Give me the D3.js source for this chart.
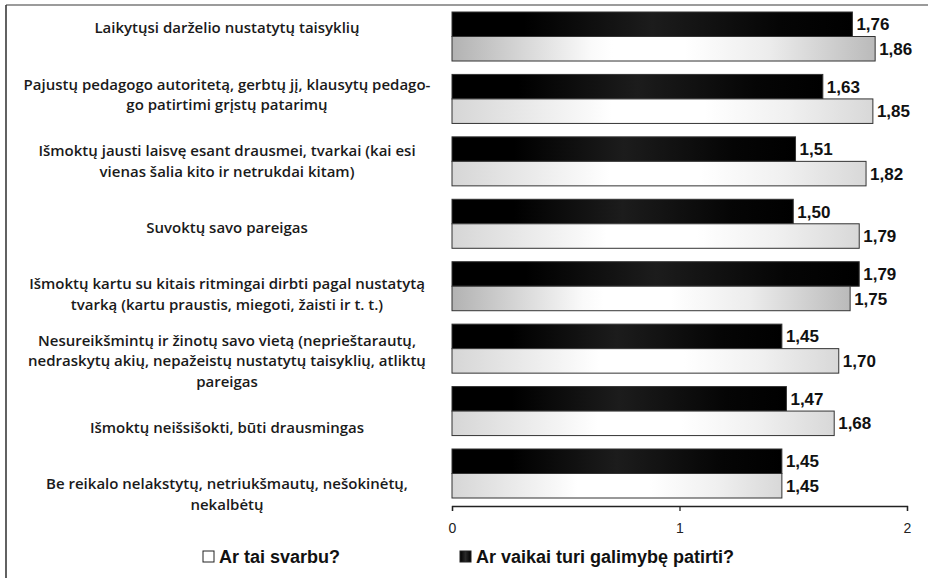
<!DOCTYPE html>
<html><head><meta charset="utf-8">
<script src="https://cdn.jsdelivr.net/npm/d3@7"></script>
<style>body{margin:0;background:#fff}svg{display:block}</style>
</head><body>
<svg id="c" width="928" height="578"></svg>
<script>
const categories = [
  ["Laikytųsi darželio nustatytų taisyklių"],
  ["Pajustų pedagogo autoritetą, gerbtų jį, klausytų pedago-", "go patirtimi grįstų patarimų"],
  ["Išmoktų jausti laisvę esant drausmei, tvarkai (kai esi", "vienas šalia kito ir netrukdai kitam)"],
  ["Suvoktų savo pareigas"],
  ["Išmoktų kartu su kitais ritmingai dirbti pagal nustatytą", "tvarką (kartu praustis, miegoti, žaisti ir t. t.)"],
  ["Nesureikšmintų ir žinotų savo vietą (neprieštarautų,", "nedraskytų akių, nepažeistų nustatytų taisyklių, atliktų", "pareigas"],
  ["Išmoktų neišsišokti, būti drausmingas"],
  ["Be reikalo nelakstytų, netriukšmautų, nešokinėtų,", "nekalbėtų"]
];
const seriesNames = ["Ar vaikai turi galimybę patirti?", "Ar tai svarbu?"];
const valuesOpportunity = [1.76, 1.63, 1.51, 1.50, 1.79, 1.45, 1.47, 1.45];
const valuesImportant  = [1.86, 1.85, 1.82, 1.79, 1.75, 1.70, 1.68, 1.45];
const xTicks = [0, 1, 2];
const legendLabels = ["Ar tai svarbu?", "Ar vaikai turi galimybę patirti?"];

const svg = d3.select("#c");
const ids = categories.map((_, i) => i);

// frame
svg.append("line").attr("x1", 6).attr("x2", 928).attr("y1", 5).attr("y2", 5)
  .attr("stroke", "#7a7a7a").attr("stroke-width", 1.6);
svg.append("line").attr("x1", 6).attr("x2", 6).attr("y1", 5).attr("y2", 578)
  .attr("stroke", "#3a3a3a").attr("stroke-width", 1.6);

// gradients
const defs = svg.append("defs");
function grad(id, stops) {
  const g = defs.append("linearGradient").attr("id", id).attr("x1", 0).attr("x2", 1).attr("y1", 0).attr("y2", 0);
  stops.forEach(([o, c]) => g.append("stop").attr("offset", o).attr("stop-color", c));
}
grad("gBlack", [[0, "#000"], [0.18, "#000"], [0.5, "#1c1c1c"], [0.82, "#050505"], [1, "#000"]]);
grad("gLightStrong", [[0, "#b2b2b2"], [0.33, "#fafafa"], [0.38, "#fff"], [0.55, "#fff"], [0.75, "#ececec"], [1, "#bababa"]]);
grad("gLight", [[0, "#d6d6d6"], [0.3, "#f6f6f6"], [0.38, "#fff"], [0.6, "#fff"], [0.8, "#f0f0f0"], [1, "#d8d8d8"]]);
grad("gLegendBlack", [[0, "#000"], [0.5, "#2a2a2a"], [1, "#000"]]);
const strongShadeRows = new Set([0, 4]);

const x = d3.scaleLinear().domain([0, 2]).range([452, 907]);
const y = d3.scaleBand().domain(ids).range([12, 498]).paddingInner(0.215).paddingOuter(0);
const ySub = d3.scaleBand().domain([0, 1]).range([0, y.bandwidth()]);
const yLabel = d3.scalePoint().domain(ids).range([28, 494]);

const rows = ids.map(i => ({i, vals: [valuesOpportunity[i], valuesImportant[i]]}));

const g = svg.append("g");
const rowG = g.selectAll("g.row").data(rows).join("g").attr("class", "row")
  .attr("transform", d => `translate(0,${y(d.i)})`);

rowG.selectAll("rect").data(d => d.vals.map((v, s) => ({v, s, i: d.i}))).join("rect")
  .attr("x", x(0))
  .attr("y", d => ySub(d.s))
  .attr("width", d => x(d.v) - x(0))
  .attr("height", ySub.bandwidth())
  .attr("fill", d => d.s === 0 ? "url(#gBlack)" : (strongShadeRows.has(d.i) ? "url(#gLightStrong)" : "url(#gLight)"))
  .attr("stroke", "#333").attr("stroke-width", 1);

rowG.selectAll("text.val").data(d => d.vals.map((v, s) => ({v, s}))).join("text")
  .attr("class", "val")
  .attr("x", d => x(d.v) + 4)
  .attr("y", d => ySub(d.s) + ySub.bandwidth() / 2)
  .attr("dy", "0.36em")
  .attr("font-family", "'Liberation Sans', Arial, sans-serif")
  .attr("font-weight", "bold").attr("font-size", 17).attr("fill", "#111")
  .text(d => d3.format(".2f")(d.v).replace(".", ","));

// category labels
const lh = 20.5;
svg.append("g").selectAll("text").data(ids).join("text")
  .attr("font-family", "'Open Sans', 'Noto Sans', sans-serif")
  .attr("font-weight", 600).attr("font-size", 15).attr("fill", "#1a1a1a")
  .attr("text-anchor", "middle")
  .each(function(i) {
    const lines = categories[i];
    const t = d3.select(this);
    const y0 = yLabel(i) - (lines.length - 1) * lh / 2;
    lines.forEach((ln, k) => t.append("tspan").attr("x", 227).attr("y", y0 + k * lh).attr("dy", "0.35em").text(ln));
  });

// axis
const ax = svg.append("g").attr("transform", "translate(0,506)")
  .call(d3.axisBottom(x).tickValues(xTicks).tickFormat(d3.format("d")).tickSize(5).tickPadding(12));
ax.select(".domain").attr("stroke", "#222").attr("stroke-width", 1.3);
ax.selectAll(".tick line").attr("stroke", "#222").attr("stroke-width", 1.3);
ax.selectAll("text").attr("font-family", "'Liberation Sans', Arial, sans-serif").attr("font-size", 14).attr("fill", "#222");

// legend
const legX = [203, 460];
const leg = svg.append("g").selectAll("g").data(legendLabels).join("g")
  .attr("transform", (d, k) => `translate(${legX[k]},557)`);
leg.append("rect").attr("x", 0).attr("y", -6).attr("width", 11).attr("height", 11)
  .attr("fill", (d, k) => k === 0 ? "#fff" : "url(#gLegendBlack)")
  .attr("stroke", "#222").attr("stroke-width", 1);
leg.append("text").attr("x", 16).attr("y", 0).attr("dy", "0.36em")
  .attr("font-family", "'Liberation Sans', Arial, sans-serif").attr("font-weight", "bold")
  .attr("font-size", 18).attr("fill", "#111").text(d => d);
</script>
</body></html>
